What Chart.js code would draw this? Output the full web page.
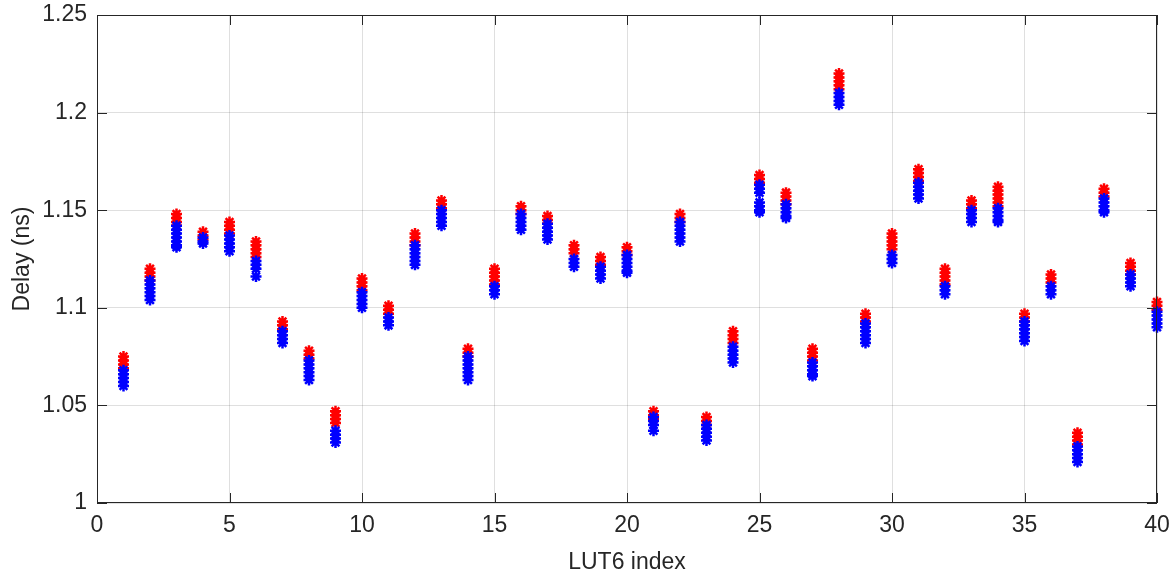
<!DOCTYPE html>
<html>
<head>
<meta charset="utf-8">
<script src="https://cdn.jsdelivr.net/npm/chart.js@4.4.1/dist/chart.umd.min.js"></script>
<style>
  html, body { margin: 0; padding: 0; background: #fff; }
  #wrap { width: 1173px; height: 579px; }
</style>
</head>
<body>
<div id="wrap"><canvas id="delayChart"></canvas></div>
<script>
// LUT6 index on the x axis
const lutIndex = [1, 2, 3, 4, 5, 6, 7, 8, 9, 10, 11, 12, 13, 14, 15, 16, 17, 18, 19, 20,
                  21, 22, 23, 24, 25, 26, 27, 28, 29, 30, 31, 32, 33, 34, 35, 36, 37, 38, 39, 40];

// measured delays (ns), red series, one list per LUT
const redDelay = [
    [1.075, 1.073, 1.071, 1.069], [1.120, 1.118, 1.116, 1.114], [1.148, 1.146, 1.144, 1.142], [1.139, 1.137, 1.135],
    [1.144, 1.142, 1.140, 1.138], [1.134, 1.132, 1.130, 1.128, 1.126], [1.093, 1.091, 1.089], [1.078, 1.076, 1.074],
    [1.047, 1.045, 1.043, 1.041], [1.115, 1.113, 1.111, 1.109], [1.101, 1.099, 1.097], [1.138, 1.136, 1.134, 1.132],
    [1.155, 1.153, 1.151], [1.079, 1.077, 1.075], [1.120, 1.118, 1.116, 1.114, 1.112], [1.152, 1.150, 1.148],
    [1.147, 1.145, 1.143], [1.132, 1.130, 1.128], [1.126, 1.124, 1.122], [1.131, 1.129, 1.127],
    [1.047, 1.045, 1.043], [1.148, 1.146, 1.144], [1.044, 1.042, 1.040], [1.088, 1.086, 1.084, 1.082],
    [1.168, 1.166, 1.164], [1.159, 1.157, 1.155, 1.153], [1.079, 1.077, 1.075, 1.073], [1.220, 1.218, 1.216, 1.214, 1.212],
    [1.097, 1.095, 1.093], [1.138, 1.136, 1.134, 1.132, 1.130], [1.171, 1.169, 1.167, 1.165], [1.120, 1.118, 1.116, 1.114, 1.112],
    [1.155, 1.153, 1.151], [1.162, 1.160, 1.158, 1.156, 1.154, 1.152], [1.097, 1.095, 1.093], [1.117, 1.115, 1.113],
    [1.036, 1.034, 1.032, 1.030], [1.161, 1.159, 1.157], [1.123, 1.121, 1.119, 1.117], [1.103, 1.101, 1.099]
];

// measured delays (ns), blue series
const blueDelay = [
    [1.068, 1.066, 1.064, 1.062, 1.060], [1.114, 1.112, 1.110, 1.108, 1.106, 1.104], [1.142, 1.140, 1.138, 1.136, 1.134, 1.132, 1.131], [1.136, 1.134, 1.133],
    [1.137, 1.135, 1.133, 1.131, 1.129], [1.124, 1.122, 1.120, 1.116], [1.088, 1.086, 1.084, 1.082], [1.073, 1.071, 1.069, 1.067, 1.065, 1.063],
    [1.037, 1.035, 1.033, 1.031], [1.108, 1.106, 1.104, 1.102, 1.100], [1.095, 1.093, 1.091], [1.132, 1.130, 1.128, 1.126, 1.124, 1.122],
    [1.150, 1.148, 1.146, 1.144, 1.142], [1.075, 1.073, 1.071, 1.069, 1.067, 1.065, 1.063], [1.111, 1.109, 1.107], [1.148, 1.146, 1.144, 1.142, 1.140],
    [1.143, 1.141, 1.139, 1.137, 1.135], [1.125, 1.123, 1.121], [1.121, 1.119, 1.117, 1.115], [1.127, 1.125, 1.123, 1.121, 1.119, 1.118],
    [1.044, 1.042, 1.040, 1.037], [1.144, 1.142, 1.140, 1.138, 1.136, 1.134], [1.040, 1.038, 1.036, 1.034, 1.032], [1.080, 1.078, 1.076, 1.074, 1.072],
    [1.163, 1.161, 1.159, 1.154, 1.152, 1.150, 1.149], [1.153, 1.151, 1.149, 1.147, 1.146], [1.072, 1.070, 1.068, 1.066, 1.065], [1.210, 1.208, 1.206, 1.204],
    [1.092, 1.090, 1.088, 1.086, 1.084, 1.082], [1.127, 1.125, 1.123], [1.164, 1.162, 1.160, 1.158, 1.156], [1.111, 1.109, 1.107],
    [1.150, 1.148, 1.146, 1.144], [1.151, 1.149, 1.147, 1.145, 1.144], [1.093, 1.091, 1.089, 1.087, 1.085, 1.083], [1.111, 1.109, 1.107],
    [1.029, 1.027, 1.025, 1.023, 1.021], [1.156, 1.154, 1.152, 1.150, 1.149], [1.117, 1.115, 1.113, 1.111], [1.098, 1.096, 1.094, 1.092, 1.090]
];

const xTickLabels = ['0', '5', '10', '15', '20', '25', '30', '35', '40'];
const yTickLabels = ['1', '1.05', '1.1', '1.15', '1.2', '1.25'];

const TXT = '#262626';
const FONT = "'Liberation Sans', Arial, Helvetica, sans-serif";

function toPoints(lists) {
    const pts = [];
    lists.forEach((vals, i) => {
        vals.forEach(v => pts.push({ x: lutIndex[i], y: v }));
    });
    return pts;
}

// box around the axes + MATLAB style inward ticks
const axesBox = {
    id: 'axesBox',
    afterDraw(chart) {
        const { ctx, chartArea: a, scales } = chart;
        ctx.save();
        ctx.strokeStyle = TXT;
        ctx.lineWidth = 1;
        ctx.strokeRect(a.left + 0.5, a.top + 0.5, a.right - a.left - 1, a.bottom - a.top - 1);
        ctx.beginPath();
        scales.x.ticks.forEach(t => {
            const px = Math.round(scales.x.getPixelForValue(t.value)) + 0.5;
            ctx.moveTo(px, a.bottom); ctx.lineTo(px, a.bottom - 10);
            ctx.moveTo(px, a.top); ctx.lineTo(px, a.top + 10);
        });
        scales.y.ticks.forEach(t => {
            const py = Math.round(scales.y.getPixelForValue(t.value)) + 0.5;
            ctx.moveTo(a.left, py); ctx.lineTo(a.left + 10, py);
            ctx.moveTo(a.right, py); ctx.lineTo(a.right - 10, py);
        });
        ctx.stroke();
        ctx.restore();
    }
};

const ctx = document.getElementById('delayChart').getContext('2d');
new Chart(ctx, {
    type: 'scatter',
    data: {
        datasets: [
            {
                label: 'red',
                data: toPoints(redDelay),
                pointStyle: 'star',
                pointRadius: 5.5,
                borderWidth: 2.5,
                borderColor: '#ff0000',
                backgroundColor: '#ff0000',
                clip: false,
                order: 2
            },
            {
                label: 'blue',
                data: toPoints(blueDelay),
                pointStyle: 'star',
                pointRadius: 5.5,
                borderWidth: 2.5,
                borderColor: '#0000ff',
                backgroundColor: '#0000ff',
                clip: false,
                order: 1
            }
        ]
    },
    options: {
        responsive: true,
        maintainAspectRatio: false,
        animation: false,
        layout: { autoPadding: false, padding: { left: 0, top: 15, right: 16, bottom: 0 } },
        plugins: { legend: { display: false }, tooltip: { enabled: false } },
        scales: {
            x: {
                type: 'linear',
                min: 0, max: 40,
                afterFit: s => { s.height = 76; s.paddingLeft = 0; s.paddingRight = 0; },
                ticks: {
                    stepSize: 5,
                    padding: 9,
                    color: TXT,
                    font: { family: FONT, size: 23 },
                    maxRotation: 0,
                    callback: (v) => xTickLabels[Math.round(v / 5)]
                },
                grid: { color: 'rgba(38,38,38,0.15)', drawTicks: false },
                border: { display: false },
                title: { display: true, text: 'LUT6 index', color: TXT, font: { family: FONT, size: 23 }, padding: { top: 0, bottom: 3 } }
            },
            y: {
                type: 'linear',
                min: 1, max: 1.25,
                afterFit: s => { s.width = 97; s.paddingTop = 0; s.paddingBottom = 0; },
                ticks: {
                    stepSize: 0.05,
                    padding: 10,
                    color: TXT,
                    font: { family: FONT, size: 23 },
                    callback: (v) => yTickLabels[Math.round((v - 1) / 0.05)]
                },
                grid: { color: 'rgba(38,38,38,0.15)', drawTicks: false },
                border: { display: false },
                title: { display: true, text: 'Delay (ns)', color: TXT, font: { family: FONT, size: 23 }, padding: { top: 9, bottom: 0 } }
            }
        }
    },
    plugins: [axesBox]
});
</script>
</body>
</html>
